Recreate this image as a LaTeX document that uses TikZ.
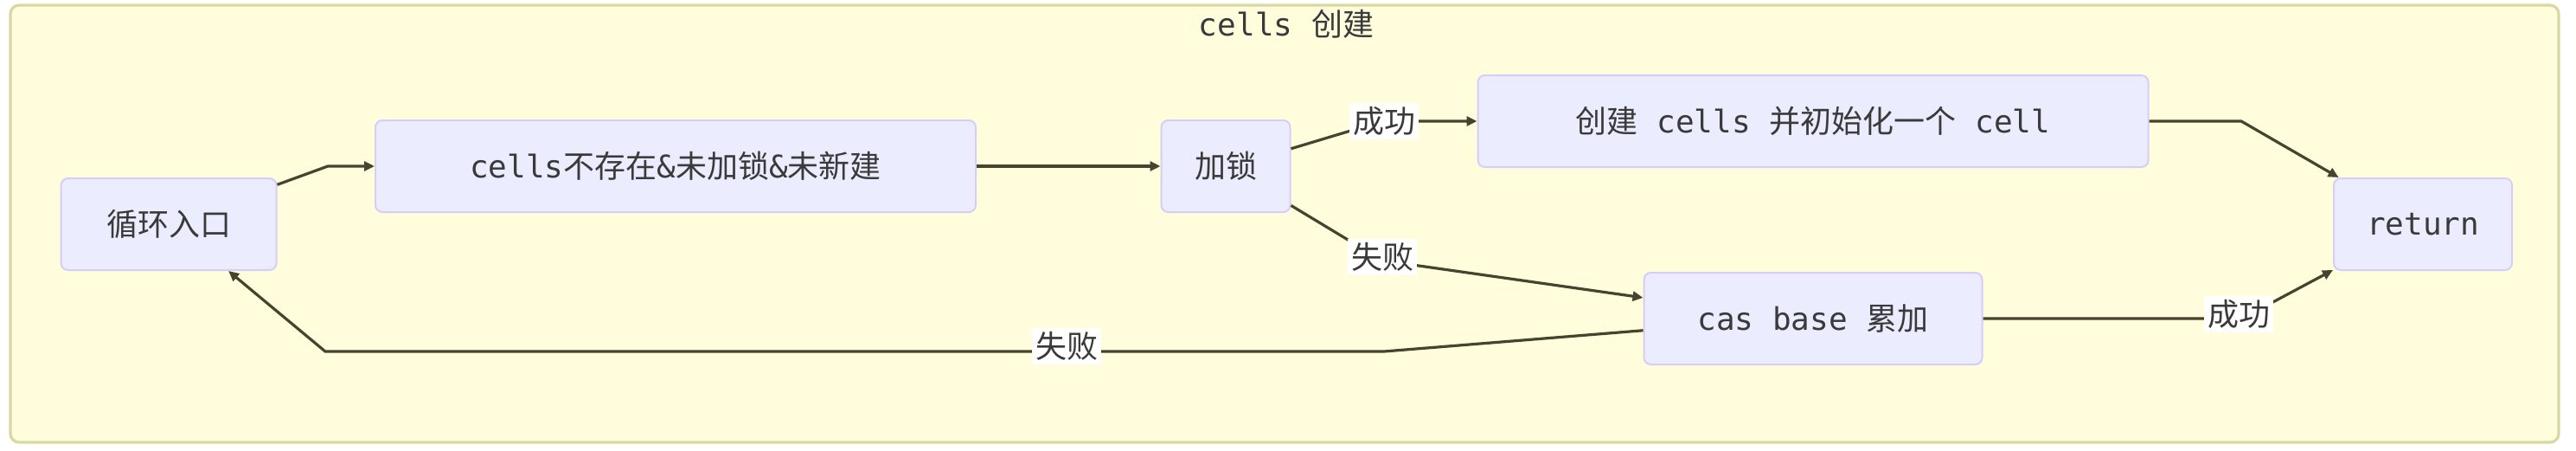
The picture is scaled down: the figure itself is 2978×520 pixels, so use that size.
\documentclass[tikz,border=0pt]{standalone}
\usepackage{fontspec}
\setmainfont{DejaVu Sans Mono}
\newfontfamily\cjk{Noto Sans CJK SC}
\usetikzlibrary{arrows.meta}
\definecolor{clfill}{HTML}{FFFDDC}
\definecolor{clline}{HTML}{D8D8A0}
\definecolor{nfill}{HTML}{ECECFF}
\definecolor{nline}{HTML}{D6CEF6}
\definecolor{txt}{HTML}{3A3A3A}
\definecolor{eline}{HTML}{45452F}
\newcommand\zh[1]{{\cjk #1}}
\begin{document}
\begin{tikzpicture}[x=0.5pt,y=-0.5pt,
  font=\fontsize{18}{22}\selectfont,
  box/.style={draw=nline, fill=nfill, line width=1pt, rounded corners=4pt,
    minimum height=53pt, text=txt, inner sep=0pt},
  edge/.style={draw=eline, line width=1.6pt, -{Triangle[length=6pt,width=5.5pt]}},
  lbl/.style={fill=white, text=txt, inner sep=2pt}]
\useasboundingbox (0,0) rectangle (2978,520);
\draw[fill=clfill, draw=clline, line width=1.6pt, rounded corners=5pt] (12,6) rectangle (2958,511);
\node[text=txt] (title) at (1487,28) {cells \zh{创建}};

\node[box, minimum width=124.5pt] (n1) at (195,259) {\zh{循环入口}};
\node[box, minimum width=347pt] (n2) at (781,192) {cells\zh{不存在}\&\zh{未加锁}\&\zh{未新建}};
\node[box, minimum width=74.5pt] (n3) at (1417,192) {\zh{加锁}};
\node[box, minimum width=387.5pt] (n4) at (2096,140) {\zh{创建} cells \zh{并初始化一个} cell};
\node[box, minimum width=195.5pt] (n5) at (2096,368) {cas base \zh{累加}};
\node[box, minimum width=103pt] (n6) at (2801,259) {return};

\coordinate (b1) at (379,192);
\coordinate (b2) at (1598,140);
\coordinate (b3) at (1598,301);
\coordinate (b4) at (2591,140);
\coordinate (b5) at (2592,368);
\coordinate (b6) at (1600,406);
\coordinate (b7) at (376,406);

\draw[edge] (n1.20) -- (b1) -- (n2.west);
\draw[edge] (n2.east) -- (n3.west);
\draw[edge] (n3.15) -- (b2) -- (n4.west);
\draw[edge] (n3.-31) -- (b3) -- (n5.173);
\draw[edge] (n4.east) -- (b4) -- (n6.151);
\draw[edge] (n5.east) -- (b5) -- (n6.207);
\draw[edge] (n5.184) -- (b6) -- (b7) -- (n1.322);

\node[lbl] (l1) at (1600,140) {\zh{成功}};
\node[lbl] (l2) at (1598,297) {\zh{失败}};
\node[lbl] (l3) at (2588,363) {\zh{成功}};
\node[lbl] (l4) at (1233,400) {\zh{失败}};
\end{tikzpicture}
\end{document}
